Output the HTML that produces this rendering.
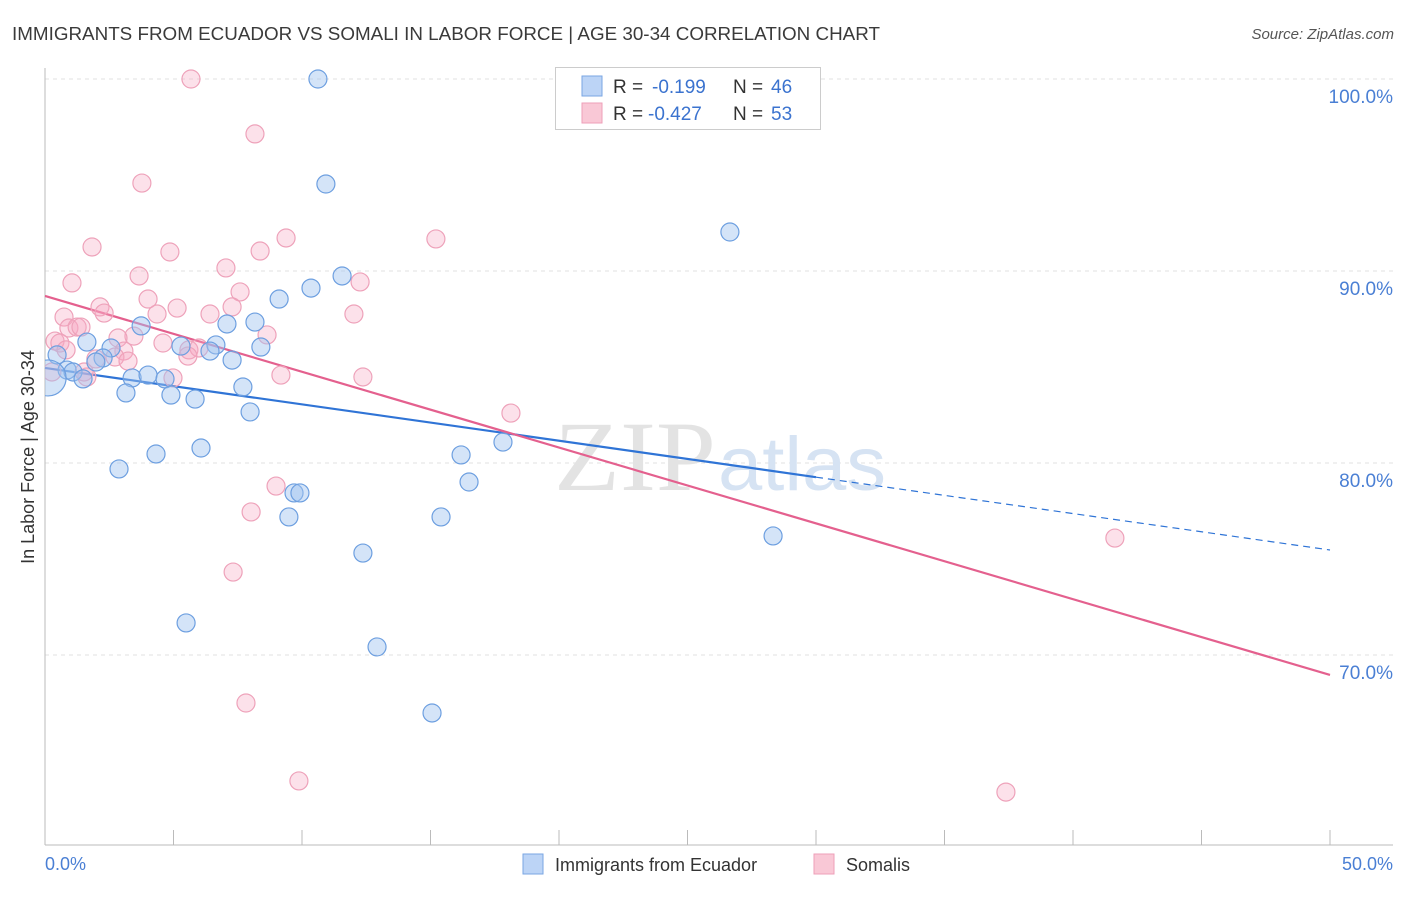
<!DOCTYPE html>
<html><head><meta charset="utf-8"><style>
body{margin:0;background:#fff;font-family:"Liberation Sans",sans-serif}
</style></head><body>
<svg width="1406" height="892" xmlns="http://www.w3.org/2000/svg" font-family="Liberation Sans, sans-serif">
<defs><clipPath id="plotclip"><rect x="45" y="60" width="1360" height="786"/></clipPath></defs>
<text x="12" y="40" font-size="18" fill="#3a3a3a" textLength="868" lengthAdjust="spacingAndGlyphs">IMMIGRANTS FROM ECUADOR VS SOMALI IN LABOR FORCE | AGE 30-34 CORRELATION CHART</text>
<text x="1394" y="39" font-size="15" fill="#555" font-style="italic" text-anchor="end">Source: ZipAtlas.com</text>
<g id="grid"></g>
<text x="716" y="490" font-size="100" font-family="Liberation Serif, serif" fill="#e3e3e3" text-anchor="end" textLength="162" lengthAdjust="spacingAndGlyphs">ZIP</text>
<text x="718" y="490" font-size="76" fill="#d6e3f3" textLength="168" lengthAdjust="spacingAndGlyphs">atlas</text>
<g id="trend"></g>
<g id="pts" clip-path="url(#plotclip)"></g>
<text transform="translate(34,457) rotate(-90)" font-size="18" fill="#333" text-anchor="middle">In Labor Force | Age 30-34</text>
<text x="45" y="870" font-size="18" fill="#4a7fd4">0.0%</text>
<text x="1393" y="870" font-size="18" fill="#4a7fd4" text-anchor="end">50.0%</text>
<g>
<rect x="555.5" y="67.5" width="265" height="62" fill="#fff" stroke="#ccc"/>
<rect x="582" y="76" width="20" height="20" fill="#bcd4f6" stroke="#7aa6e3"/>
<rect x="582" y="103" width="20" height="20" fill="#f9c8d6" stroke="#ee9fb8"/>
<text y="93" font-size="19" fill="#333"><tspan x="613">R =</tspan><tspan x="652" fill="#3b73cf">-0.199</tspan><tspan x="733">N =</tspan><tspan x="771" fill="#3b73cf">46</tspan></text>
<text y="120" font-size="19" fill="#333"><tspan x="613">R =</tspan><tspan x="648" fill="#3b73cf">-0.427</tspan><tspan x="733">N =</tspan><tspan x="771" fill="#3b73cf">53</tspan></text>
</g>
<g>
<rect x="523" y="854" width="20" height="20" fill="#bcd4f6" stroke="#7aa6e3"/>
<text x="555" y="871" font-size="18" fill="#333">Immigrants from Ecuador</text>
<rect x="814" y="854" width="20" height="20" fill="#f9c8d6" stroke="#ee9fb8"/>
<text x="846" y="871" font-size="18" fill="#333">Somalis</text>
</g>
</svg>
<script>
const yTicks=[100,90,80,70];
const yTickLabels=["100.0%","90.0%","80.0%","70.0%"];
const blueX=[10.62,10.93,26.65,11.56,10.35,9.11,7.08,8.17,3.74,1.63,0.47,2.57,5.29,6.65,6.42,8.40,7.28,2.26,1.98,0.86,1.09,1.48,3.39,4.01,4.67,3.15,4.90,5.84,7.70,7.98,17.82,16.19,4.32,6.07,2.88,16.50,9.69,9.92,9.49,15.41,28.33,12.37,5.49,12.92,15.06,0.12];
const blueY=[100,94.53,92.03,89.74,89.11,88.54,87.24,87.34,87.14,86.30,85.63,85.99,86.09,86.15,85.83,86.04,85.36,85.47,85.26,84.84,84.74,84.38,84.43,84.58,84.38,83.65,83.54,83.33,83.96,82.66,81.09,80.42,80.47,80.78,79.69,79.01,78.44,78.44,77.19,77.19,76.20,75.31,71.67,70.42,66.98,84.43];
const pinkX=[5.68,8.17,3.77,9.38,15.21,1.83,4.86,8.37,7.04,3.66,12.26,1.05,4.01,7.59,5.14,7.28,2.14,2.30,6.42,4.36,12.02,0.74,0.93,1.25,1.40,3.46,2.84,8.64,4.59,0.39,0.58,5.60,5.99,3.07,1.98,2.72,3.23,5.56,0.27,4.98,9.18,12.37,1.63,18.13,8.99,8.02,7.32,41.63,7.82,9.88,37.39,0.82,1.52];
const pinkY=[100,97.14,94.58,91.72,91.67,91.25,90.99,91.04,90.16,89.74,89.43,89.38,88.54,88.91,88.07,88.13,88.13,87.81,87.76,87.76,87.76,87.60,87.03,87.08,87.08,86.61,86.51,86.67,86.25,86.35,86.25,85.89,85.99,85.83,85.42,85.52,85.31,85.57,84.74,84.43,84.58,84.48,84.48,82.60,78.80,77.45,74.32,76.09,67.50,63.44,62.86,85.89,84.74];
const blueTrend=[84.95,75.47];
const pinkTrend=[88.70,68.96];
const blueSolidEnd=30;
const NS="http://www.w3.org/2000/svg";
const X=v=>45+v*25.7, Y=v=>79+(100-v)*19.2;
function mk(t,a,p){const e=document.createElementNS(NS,t);for(const k in a)e.setAttribute(k,a[k]);p.appendChild(e);return e;}
const g=document.getElementById('grid');
yTicks.forEach((t,i)=>{
 const l=mk('line',{x1:45,x2:1393,y1:Y(t),y2:Y(t),stroke:'#e2e2e2','stroke-dasharray':'4 4'},g);
 
 
 const tx=mk('text',{x:1393,y:Y(t)+24,'font-size':19,fill:'#4a7fd4','text-anchor':'end'},g);
 tx.textContent=yTickLabels[i];
 
 
});
const ax=mk('line',{x1:45,x2:45,y1:68,y2:845,stroke:'#bbb'},g);


const bx=mk('line',{x1:45,x2:1393,y1:845,y2:845,stroke:'#bbb'},g);


for(let i=0;i<=10;i++){const t=mk('line',{x1:X(i*5),x2:X(i*5),y1:830,y2:845,stroke:'#bbb'},g);
 
 }
const tr=document.getElementById('trend');
const by=x=>blueTrend[0]+(blueTrend[1]-blueTrend[0])*x/50;
let l1=mk('line',{x1:X(0),y1:Y(blueTrend[0]),x2:X(blueSolidEnd),y2:Y(by(blueSolidEnd)),stroke:'#2f74d6','stroke-width':2.2},tr);


let l2=mk('line',{x1:X(blueSolidEnd),y1:Y(by(blueSolidEnd)),x2:X(50),y2:Y(blueTrend[1]),stroke:'#2f74d6','stroke-width':1.2,'stroke-dasharray':'7 5'},tr);


let l3=mk('line',{x1:X(0),y1:Y(pinkTrend[0]),x2:X(50),y2:Y(pinkTrend[1]),stroke:'#e4608e','stroke-width':2.2},tr);


const p=document.getElementById('pts');
pinkX.forEach((x,i)=>{const c=mk('circle',{cx:X(x),cy:Y(pinkY[i]),r:9,fill:'rgba(246,170,196,0.35)',stroke:'#eea2ba','stroke-width':1.2},p);
 
 });
blueX.forEach((x,i)=>{const c=mk('circle',{cx:X(x),cy:Y(blueY[i]),r:i==blueX.length-1?18:9,fill:'rgba(160,196,240,0.45)',stroke:'#6d9fe0','stroke-width':1.2},p);
 
 });
</script>
</body></html>
